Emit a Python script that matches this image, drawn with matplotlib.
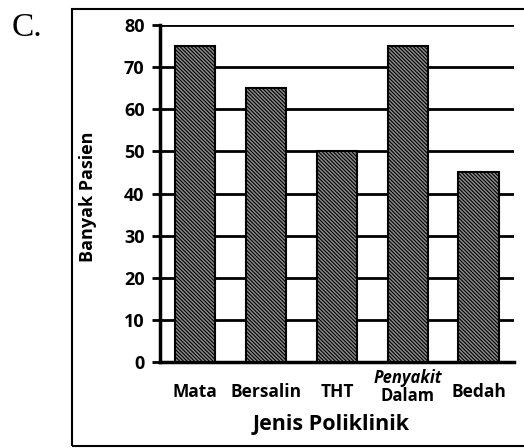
import matplotlib
matplotlib.use("Agg")
import matplotlib.pyplot as plt
from matplotlib.patches import Rectangle
from matplotlib.transforms import blended_transform_factory

categories = ["Mata", "Bersalin", "THT", "Penyakit\nDalam", "Bedah"]
values = [75, 65, 50, 75, 45]
yticks = [0, 10, 20, 30, 40, 50, 60, 70, 80]

plt.rcParams['font.family'] = ['Open Sans', 'DejaVu Sans']
plt.rcParams['hatch.linewidth'] = 0.8

fig = plt.figure(figsize=(5.24, 4.48), dpi=100)
ax = fig.add_axes([0.305, 0.192, 0.676, 0.752])

# outer frame of the scanned figure
fig.patches.append(Rectangle((0.137, 0.005), 0.9, 0.975, transform=fig.transFigure,
                             fill=False, edgecolor='black', linewidth=1.5))
fig.text(0.022, 0.937, "C.", fontsize=24, family='Liberation Serif', va='center')

ax.set_axisbelow(True)
ax.yaxis.grid(True, color='black', linewidth=2)
x = list(range(len(categories)))
ax.bar(x, values, width=0.57, facecolor='#8a8a8a', edgecolor='black',
       hatch='\\' * 9, linewidth=1.5, zorder=3)

ax.set_ylim(0, 80)
ax.set_xlim(-0.5, 4.5)
ax.set_yticks(yticks)
ax.set_yticklabels([str(v) for v in yticks], fontsize=13, fontweight='bold')
ax.set_xticks(x)
ax.set_xticklabels([c if "\n" not in c else "" for c in categories],
                   fontsize=12.5, fontweight='bold')
ax.tick_params(axis='x', length=0, pad=15)
ax.tick_params(axis='y', length=6, width=2, pad=5)

# two-line label drawn by hand: top word italic and raised
trans = blended_transform_factory(ax.transData, ax.transAxes)
top, bottom = categories[3].split("\n")
ax.text(x[3], -0.047, top, transform=trans, ha='center', va='center',
        fontsize=12, fontweight='bold', style='italic')
ax.text(x[3], -0.10, bottom, transform=trans, ha='center', va='center',
        fontsize=12, fontweight='bold')

for side in ['top', 'right']:
    ax.spines[side].set_visible(False)
ax.spines['left'].set_linewidth(2.5)
ax.spines['bottom'].set_linewidth(2.5)

ax.set_ylabel("Banyak Pasien", fontsize=13, fontweight='bold', va='center')
ax.yaxis.set_label_coords(-0.203, 0.49)
fig.text(331 / 524, 1 - 424 / 448, "Jenis Poliklinik", fontsize=15.5,
         fontweight='bold', ha='center', va='center')

fig.savefig("out.png", dpi=100)
